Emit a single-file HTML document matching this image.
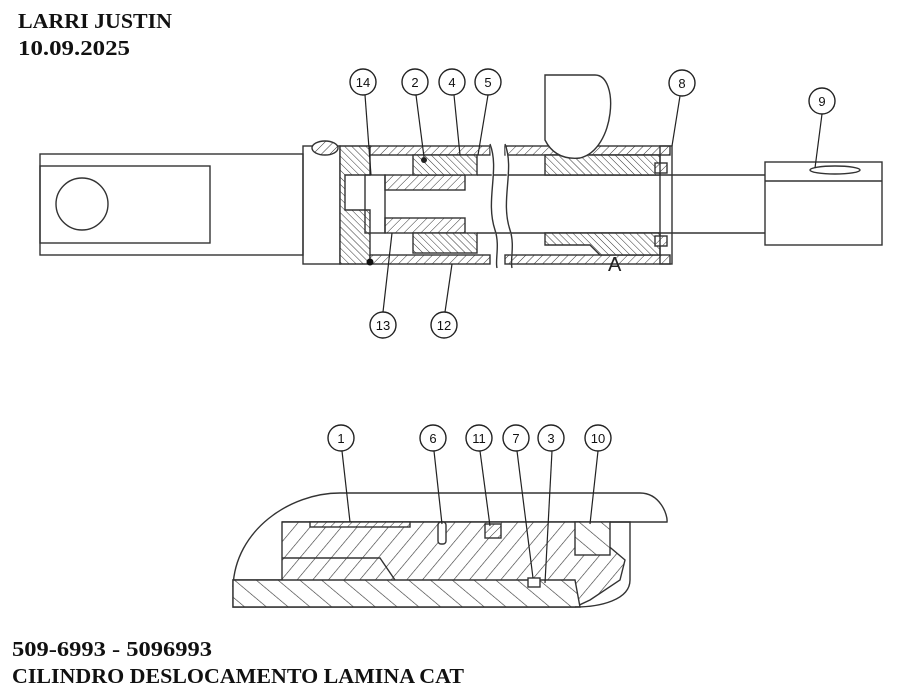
<!DOCTYPE html>
<html><head><meta charset="utf-8"><style>
html,body{margin:0;padding:0;background:#fff;}
svg{display:block;}
text{font-family:"Liberation Sans",sans-serif;}
.t{font-family:"Liberation Serif",serif;font-weight:bold;font-size:21.5px;fill:#111;}
.b{font-family:"Liberation Serif",serif;font-weight:bold;font-size:21px;fill:#111;}
</style></head><body>
<svg width="900" height="697" viewBox="0 0 900 697" xmlns="http://www.w3.org/2000/svg">
<defs>
<pattern id="h" width="6" height="6" patternUnits="userSpaceOnUse" patternTransform="rotate(45)">
<rect width="6" height="6" fill="#fff"/><line x1="0" y1="0" x2="0" y2="6" stroke="#333" stroke-width="1"/></pattern>
<pattern id="h2" width="5" height="5" patternUnits="userSpaceOnUse" patternTransform="rotate(-45)">
<rect width="5" height="5" fill="#fff"/><line x1="0" y1="0" x2="0" y2="5" stroke="#333" stroke-width="1"/></pattern>
<pattern id="hb" width="12" height="12" patternUnits="userSpaceOnUse" patternTransform="rotate(40)">
<rect width="12" height="12" fill="#fff"/><line x1="0" y1="0" x2="0" y2="12" stroke="#333" stroke-width="1.2"/></pattern>
<pattern id="hb2" width="14" height="14" patternUnits="userSpaceOnUse" patternTransform="rotate(-50)">
<rect width="14" height="14" fill="#fff"/><line x1="0" y1="0" x2="0" y2="14" stroke="#333" stroke-width="1.2"/></pattern>
</defs>
<text class="t" x="18" y="28" textLength="154" lengthAdjust="spacingAndGlyphs">LARRI JUSTIN</text>
<text class="t" x="18" y="55" textLength="112" lengthAdjust="spacingAndGlyphs">10.09.2025</text>
<text class="b" x="12" y="656" textLength="200" lengthAdjust="spacingAndGlyphs">509-6993 - 5096993</text>
<text class="b" x="12" y="683" textLength="452" lengthAdjust="spacingAndGlyphs">CILINDRO DESLOCAMENTO LAMINA CAT</text>

<g fill="none" stroke="#333" stroke-width="1.4">
<rect x="40" y="154" width="263" height="101"/>
<rect x="40" y="166" width="170" height="77"/>
<circle cx="82" cy="204" r="26"/>
<rect x="303" y="146" width="37" height="118"/>
<ellipse cx="325" cy="148" rx="13" ry="7" fill="url(#h)"/>
<path d="M340 146 H370 V175 H345 V210 H370 V264 H340 Z" fill="url(#h2)"/>
<rect x="370" y="146" width="120" height="9" fill="url(#h)"/>
<rect x="370" y="255" width="120" height="9" fill="url(#h)"/>
<rect x="505" y="146" width="165" height="9" fill="url(#h)"/>
<rect x="505" y="255" width="165" height="9" fill="url(#h)"/>
<rect x="385" y="175" width="80" height="15" fill="url(#h)"/>
<rect x="385" y="218" width="80" height="15" fill="url(#h)"/>
<rect x="365" y="175" width="20" height="58"/>
<rect x="413" y="155" width="64" height="20" fill="url(#h2)"/>
<rect x="413" y="233" width="64" height="20" fill="url(#h2)"/>
<line x1="477" y1="175" x2="765" y2="175"/>
<line x1="477" y1="233" x2="765" y2="233"/>
<path d="M490 144 C500 170,485 200,495 230 C500 245,495 260,497 268" fill="#fff"/>
<path d="M505 144 C515 170,500 200,510 230 C515 245,510 260,512 268" fill="#fff"/>
<path d="M545 155 H660 V175 H545 Z" fill="url(#h2)"/>
<path d="M545 233 H660 V255 H600 L590 245 H545 Z" fill="url(#h2)"/>
<rect x="655" y="163" width="12" height="10" fill="url(#h)"/>
<rect x="655" y="236" width="12" height="10" fill="url(#h)"/>
<rect x="660" y="146" width="12" height="118"/>
<path d="M545 75 H595 C620 75,615 150,580 158 C560 160,550 150,545 140 Z" fill="#fff"/>
<rect x="765" y="162" width="117" height="83"/>
<ellipse cx="835" cy="170" rx="25" ry="4"/>
<line x1="765" y1="181" x2="882" y2="181"/>
</g>
<circle cx="370" cy="262" r="3.5" fill="#111"/>
<circle cx="424" cy="160" r="3" fill="#222"/>
<text x="608" y="271" font-size="20" fill="#222">A</text>

<g fill="none" stroke="#333" stroke-width="1.4">
<path d="M233 587 C235 530,290 493,340 493 H640 C660 493,668 515,667 522 H282"/>
<path d="M282 522 H580 L625 560 L620 580 L590 600 L575 607 H233 V580 H282 Z" fill="url(#hb)"/>
<path d="M233 580 H575 L580 607 H233 Z" fill="url(#hb2)"/>
<rect x="310" y="522" width="100" height="5" fill="url(#h)"/>
<rect x="438" y="522" width="8" height="22" rx="3" fill="#fff"/>
<rect x="485" y="524" width="16" height="14" fill="url(#h)"/>
<rect x="575" y="522" width="35" height="33" fill="url(#hb2)"/>
<rect x="528" y="578" width="12" height="9" fill="#fff"/>
<path d="M610 522 H630 V580 C630 600,600 607,575 607"/>
<path d="M282 558 H380 L395 580"/>
</g>

<g stroke="#222" stroke-width="1.2" fill="none">
<line x1="365" y1="95" x2="371" y2="175"/>
<line x1="416" y1="95" x2="424" y2="157"/>
<line x1="454" y1="95" x2="460" y2="155"/>
<line x1="488" y1="95" x2="478" y2="155"/>
<line x1="680" y1="96" x2="672" y2="146"/>
<line x1="822" y1="114" x2="815" y2="168"/>
<line x1="383" y1="312" x2="392" y2="233"/>
<line x1="445" y1="312" x2="452" y2="264"/>
<line x1="342" y1="451" x2="350" y2="522"/>
<line x1="434" y1="451" x2="442" y2="524"/>
<line x1="480" y1="451" x2="490" y2="526"/>
<line x1="517" y1="451" x2="533" y2="578"/>
<line x1="552" y1="451" x2="545" y2="583"/>
<line x1="598" y1="451" x2="590" y2="524"/>
</g>
<g stroke="#222" stroke-width="1.4" fill="#fff">
<circle cx="363" cy="82" r="13"/><circle cx="415" cy="82" r="13"/><circle cx="452" cy="82" r="13"/><circle cx="488" cy="82" r="13"/>
<circle cx="682" cy="83" r="13"/><circle cx="822" cy="101" r="13"/><circle cx="383" cy="325" r="13"/><circle cx="444" cy="325" r="13"/>
<circle cx="341" cy="438" r="13"/><circle cx="433" cy="438" r="13"/><circle cx="479" cy="438" r="13"/><circle cx="516" cy="438" r="13"/><circle cx="551" cy="438" r="13"/><circle cx="598" cy="438" r="13"/>
</g>
<g font-size="13" fill="#111" text-anchor="middle">
<text x="363" y="87">14</text><text x="415" y="87">2</text><text x="452" y="87">4</text><text x="488" y="87">5</text>
<text x="682" y="88">8</text><text x="822" y="106">9</text><text x="383" y="330">13</text><text x="444" y="330">12</text>
<text x="341" y="443">1</text><text x="433" y="443">6</text><text x="479" y="443">11</text><text x="516" y="443">7</text><text x="551" y="443">3</text><text x="598" y="443">10</text>
</g>
</svg>
</body></html>
